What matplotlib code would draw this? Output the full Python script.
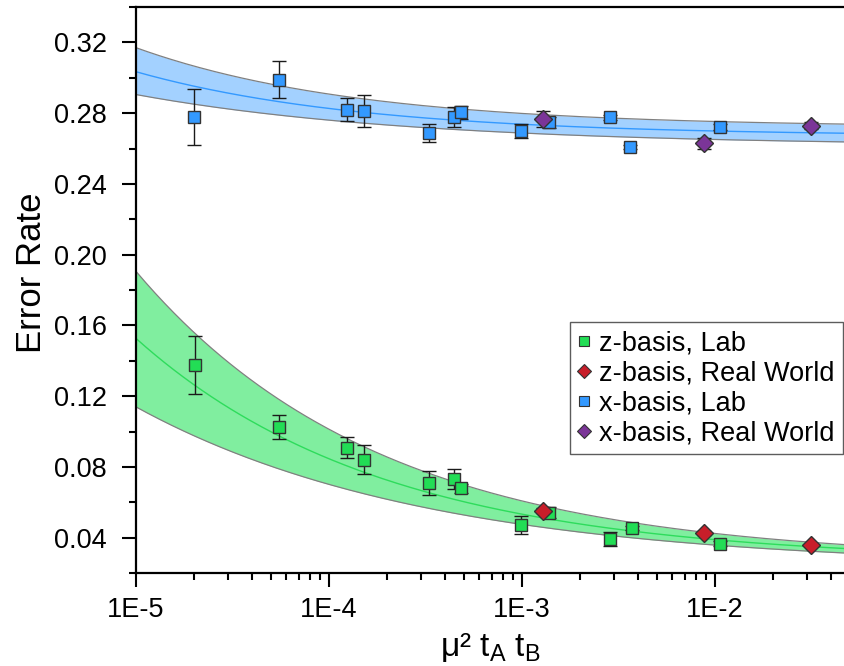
import numpy as np
import matplotlib
matplotlib.use('Agg')
import matplotlib.pyplot as plt
from matplotlib.lines import Line2D
from matplotlib.ticker import FixedLocator, NullFormatter, LogLocator

plt.rcParams['font.family'] = ['Liberation Sans', 'DejaVu Sans']
plt.rcParams['mathtext.default'] = 'regular'

# z-basis, lab
z_lab_x = [2.02e-5, 5.53e-5, 1.24e-4, 1.52e-4, 3.29e-4, 4.46e-4, 4.83e-4, 9.9e-4, 1.38e-3, 2.85e-3, 3.7e-3, 1.06e-2]
z_lab_y = [0.1377, 0.1026, 0.0909, 0.0841, 0.0711, 0.0732, 0.0679, 0.0472, 0.0542, 0.0394, 0.0455, 0.0366]
z_lab_err = [0.0165, 0.0070, 0.0060, 0.0083, 0.0068, 0.0057, 0.0027, 0.0050, 0.0033, 0.0040, 0.0012, 0.0015]

# z-basis, real world
z_rw_x = [1.28e-3, 8.73e-3, 3.13e-2]
z_rw_y = [0.0553, 0.0427, 0.0360]
z_rw_err = [0.0015, 0.0010, 0.0010]

# x-basis, lab
x_lab_x = [2.0e-5, 5.5e-5, 1.24e-4, 1.52e-4, 3.29e-4, 4.46e-4, 4.83e-4, 9.9e-4, 1.38e-3, 2.85e-3, 3.63e-3, 1.06e-2]
x_lab_y = [0.2777, 0.2990, 0.2819, 0.2810, 0.2687, 0.2777, 0.2804, 0.2700, 0.2747, 0.2776, 0.2609, 0.2722]
x_lab_err = [0.0157, 0.0105, 0.0066, 0.0090, 0.0050, 0.0055, 0.0038, 0.0040, 0.0033, 0.0015, 0.0012, 0.0015]

# x-basis, real world
x_rw_x = [1.28e-3, 8.73e-3, 3.13e-2]
x_rw_y = [0.2766, 0.2630, 0.2730]
x_rw_err = [0.0047, 0.0030, 0.0020]

# fitted curves  y = a + b*(x/1e-5)^(-p)  (center, upper, lower band)
z_fit = [(0.02654, 0.1261, 0.337), (0.02705, 0.1635, 0.343), (0.0233, 0.0906, 0.287)]
x_fit = [(0.267, 0.0364, 0.367), (0.272, 0.045, 0.38), (0.2614, 0.0291, 0.299)]


def fit_curve(x, params):
    a, b, p = params
    return a + b * (x / 1e-5) ** (-p)


fig = plt.figure(figsize=(8.44, 6.66), dpi=100)
ax = fig.add_axes([136 / 844, 93 / 666, 1 - 136 / 844, 566 / 666])

xmin, xmax = 1e-5, 10 ** (-5 + 709 / 193.3)
xs = np.logspace(np.log10(xmin), np.log10(xmax), 300)

for params, fill, line in [(z_fit, '#80ee9f', '#2edc5c'), (x_fit, '#a3d1ff', '#3399ff')]:
    c, up, lo = [fit_curve(xs, p) for p in params]
    ax.fill_between(xs, lo, up, color=fill, lw=0, zorder=1)
    ax.plot(xs, up, color='#808080', lw=0.9, zorder=2)
    ax.plot(xs, lo, color='#808080', lw=0.9, zorder=2)
    ax.plot(xs, c, color=line, lw=1.0, zorder=2)

ekw = dict(ecolor='#1a1a1a', elinewidth=1.0, capsize=5, capthick=1.0, ls='none', zorder=3)
ax.errorbar(z_lab_x, z_lab_y, yerr=z_lab_err, marker='s', ms=9, mfc='#22dd55', mec='#333333', mew=1.0, **ekw)
ax.errorbar(x_lab_x, x_lab_y, yerr=x_lab_err, marker='s', ms=9, mfc='#3399ff', mec='#333333', mew=1.0, **ekw)
ax.errorbar(z_rw_x, z_rw_y, yerr=z_rw_err, marker='D', ms=9, mfc='#c81e2a', mec='#333333', mew=1.0, **ekw)
ax.errorbar(x_rw_x, x_rw_y, yerr=x_rw_err, marker='D', ms=9, mfc='#7b3598', mec='#333333', mew=1.0, **ekw)

ax.set_xscale('log')
ax.set_xlim(xmin, xmax)
ax.set_ylim(0.02, 0.34)

ax.xaxis.set_major_locator(FixedLocator([1e-5, 1e-4, 1e-3, 1e-2]))
ax.set_xticklabels(['1E-5', '1E-4', '1E-3', '1E-2'])
ax.xaxis.set_minor_locator(LogLocator(base=10, subs=np.arange(2, 10), numticks=20))
ax.xaxis.set_minor_formatter(NullFormatter())

yt = [0.04, 0.08, 0.12, 0.16, 0.20, 0.24, 0.28, 0.32]
ax.set_yticks(yt)
ax.set_yticklabels([f'{v:.2f}' for v in yt])
ax.yaxis.set_minor_locator(FixedLocator([0.02, 0.06, 0.10, 0.14, 0.18, 0.22, 0.26, 0.30, 0.34]))

ax.tick_params(which='major', direction='out', length=10, width=1.5, labelsize=19.5)
ax.tick_params(which='minor', direction='out', length=5, width=1.5)
ax.tick_params(axis='x', which='major', pad=7)
ax.tick_params(axis='y', which='major', pad=11)
for s in ['left', 'bottom', 'top']:
    ax.spines[s].set_linewidth(1.6)
ax.spines['right'].set_visible(False)

ax.set_ylabel('Error Rate', fontsize=25, va='center')
ax.yaxis.set_label_coords(-0.148, 0.53)
ax.set_xlabel('μ² t$_A$ t$_B$', fontsize=24, labelpad=6)

handles = [
    Line2D([], [], ls='none', marker='s', ms=7, mfc='#22dd55', mec='#333333', mew=0.8),
    Line2D([], [], ls='none', marker='D', ms=7, mfc='#c81e2a', mec='#333333', mew=0.8),
    Line2D([], [], ls='none', marker='s', ms=7, mfc='#3399ff', mec='#333333', mew=0.8),
    Line2D([], [], ls='none', marker='D', ms=7, mfc='#7b3598', mec='#333333', mew=0.8),
]
labels = ['z-basis, Lab', 'z-basis, Real World', 'x-basis, Lab', 'x-basis, Real World']
leg = fig.legend(handles, labels, loc='upper right', bbox_to_anchor=(843 / 844, 344 / 666),
                 fontsize=19.5, frameon=True, fancybox=False, edgecolor='#333333',
                 handlelength=0.5, handletextpad=0.3, borderpad=0.3, labelspacing=0.15,
                 borderaxespad=0)
leg.get_frame().set_linewidth(1.0)

fig.savefig('out.png', dpi=100)
